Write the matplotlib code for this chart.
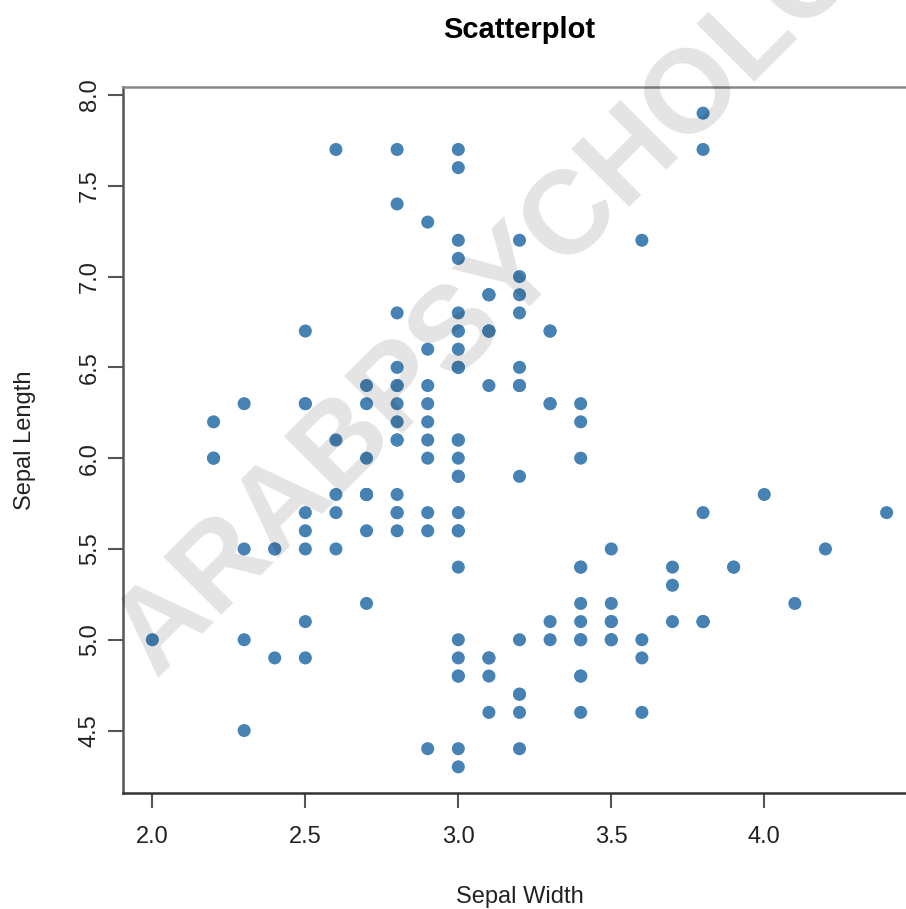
import matplotlib
matplotlib.use('Agg')
import matplotlib.pyplot as plt

# iris: Sepal.Width / Sepal.Length
sepal_width = [3.5, 3.0, 3.2, 3.1, 3.6, 3.9, 3.4, 3.4, 2.9, 3.1, 3.7, 3.4, 3.0, 3.0, 4.0, 4.4, 3.9, 3.5, 3.8, 3.8,
               3.4, 3.7, 3.6, 3.3, 3.4, 3.0, 3.4, 3.5, 3.4, 3.2, 3.1, 3.4, 4.1, 4.2, 3.1, 3.2, 3.5, 3.6, 3.0, 3.4,
               3.5, 2.3, 3.2, 3.5, 3.8, 3.0, 3.8, 3.2, 3.7, 3.3,
               3.2, 3.2, 3.1, 2.3, 2.8, 2.8, 3.3, 2.4, 2.9, 2.7, 2.0, 3.0, 2.2, 2.9, 2.9, 3.1, 3.0, 2.7, 2.2, 2.5,
               3.2, 2.8, 2.5, 2.8, 2.9, 3.0, 2.8, 3.0, 2.9, 2.6, 2.4, 2.4, 2.7, 2.7, 3.0, 3.4, 3.1, 2.3, 3.0, 2.5,
               2.6, 3.0, 2.6, 2.3, 2.7, 3.0, 2.9, 2.9, 2.5, 2.8,
               3.3, 2.7, 3.0, 2.9, 3.0, 3.0, 2.5, 2.9, 2.5, 3.6, 3.2, 2.7, 3.0, 2.5, 2.8, 3.2, 3.0, 3.8, 2.6, 2.2,
               3.2, 2.8, 2.8, 2.7, 3.3, 3.2, 2.8, 3.0, 2.8, 3.0, 2.8, 3.8, 2.8, 2.8, 2.6, 3.0, 3.4, 3.1, 3.0, 3.1,
               3.1, 3.1, 2.7, 3.2, 3.3, 3.0, 2.5, 3.0, 3.4, 3.0]
sepal_length = [5.1, 4.9, 4.7, 4.6, 5.0, 5.4, 4.6, 5.0, 4.4, 4.9, 5.4, 4.8, 4.8, 4.3, 5.8, 5.7, 5.4, 5.1, 5.7, 5.1,
                5.4, 5.1, 4.6, 5.1, 4.8, 5.0, 5.0, 5.2, 5.2, 4.7, 4.8, 5.4, 5.2, 5.5, 4.9, 5.0, 5.5, 4.9, 4.4, 5.1,
                5.0, 4.5, 4.4, 5.0, 5.1, 4.8, 5.1, 4.6, 5.3, 5.0,
                7.0, 6.4, 6.9, 5.5, 6.5, 5.7, 6.3, 4.9, 6.6, 5.2, 5.0, 5.9, 6.0, 6.1, 5.6, 6.7, 5.6, 5.8, 6.2, 5.6,
                5.9, 6.1, 6.3, 6.1, 6.4, 6.6, 6.8, 6.7, 6.0, 5.7, 5.5, 5.5, 5.8, 6.0, 5.4, 6.0, 6.7, 6.3, 5.6, 5.5,
                5.5, 6.1, 5.8, 5.0, 5.6, 5.7, 5.7, 6.2, 5.1, 5.7,
                6.3, 5.8, 7.1, 6.3, 6.5, 7.6, 4.9, 7.3, 6.7, 7.2, 6.5, 6.4, 6.8, 5.7, 5.8, 6.4, 6.5, 7.7, 7.7, 6.0,
                6.9, 5.6, 7.7, 6.3, 6.7, 7.2, 6.2, 6.1, 6.4, 7.2, 7.4, 7.9, 6.4, 6.3, 6.1, 7.7, 6.3, 6.4, 6.0, 6.9,
                6.7, 6.9, 5.8, 6.8, 6.7, 6.7, 6.3, 6.5, 6.2, 5.9]

x_ticks = [2.0, 2.5, 3.0, 3.5, 4.0]
y_ticks = [4.5, 5.0, 5.5, 6.0, 6.5, 7.0, 7.5, 8.0]

plt.rcParams['font.family'] = ['Liberation Sans', 'DejaVu Sans']

fig = plt.figure(figsize=(9.06, 9.09), dpi=100)
# axes runs past the right edge (reference is cropped there)
ax = fig.add_axes([123 / 906, 116 / 909, 793 / 906, 706 / 909])

ax.scatter(sepal_width, sepal_length, s=88, color='#4682B4', edgecolors='none', zorder=3)

# R style 4% padding
xmin, xmax = min(sepal_width), max(sepal_width)
ymin, ymax = min(sepal_length), max(sepal_length)
dx = (xmax - xmin) * 0.04
dy = (ymax - ymin) * 0.04
ax.set_xlim(xmin - dx, xmax + dx)
ax.set_ylim(ymin - dy, ymax + dy)

ax.set_xticks(x_ticks)
ax.set_xticklabels([f'{v:.1f}' for v in x_ticks])
ax.set_yticks(y_ticks)
ax.set_yticklabels([f'{v:.1f}' for v in y_ticks], rotation=90, va='center')

ax.tick_params(axis='both', length=11, width=1.5, color='#555555', labelsize=17, labelcolor='#222222')
ax.tick_params(axis='x', pad=13)
ax.tick_params(axis='y', pad=5)

ax.spines['left'].set_color('#555555')
ax.spines['bottom'].set_color('#333333')
ax.spines['top'].set_color('#888888')
ax.spines['right'].set_visible(False)
for sp in ['left', 'bottom', 'top']:
    ax.spines[sp].set_linewidth(1.8)

ax.set_xlabel('Sepal Width', fontsize=17, color='#222222', labelpad=27)
ax.set_ylabel('Sepal Length', fontsize=17, color='#222222', labelpad=31)
ax.set_title('Scatterplot', fontsize=21, fontweight='bold', pad=35)

# watermark
fig.text(155 / 906, 1 - 678 / 909, 'ARABPSYCHOLOGY', fontsize=85, fontweight='bold',
         color='black', alpha=0.11, rotation=45, rotation_mode='anchor',
         ha='left', va='baseline', zorder=10)

fig.savefig('out.png', dpi=100, facecolor='white')
